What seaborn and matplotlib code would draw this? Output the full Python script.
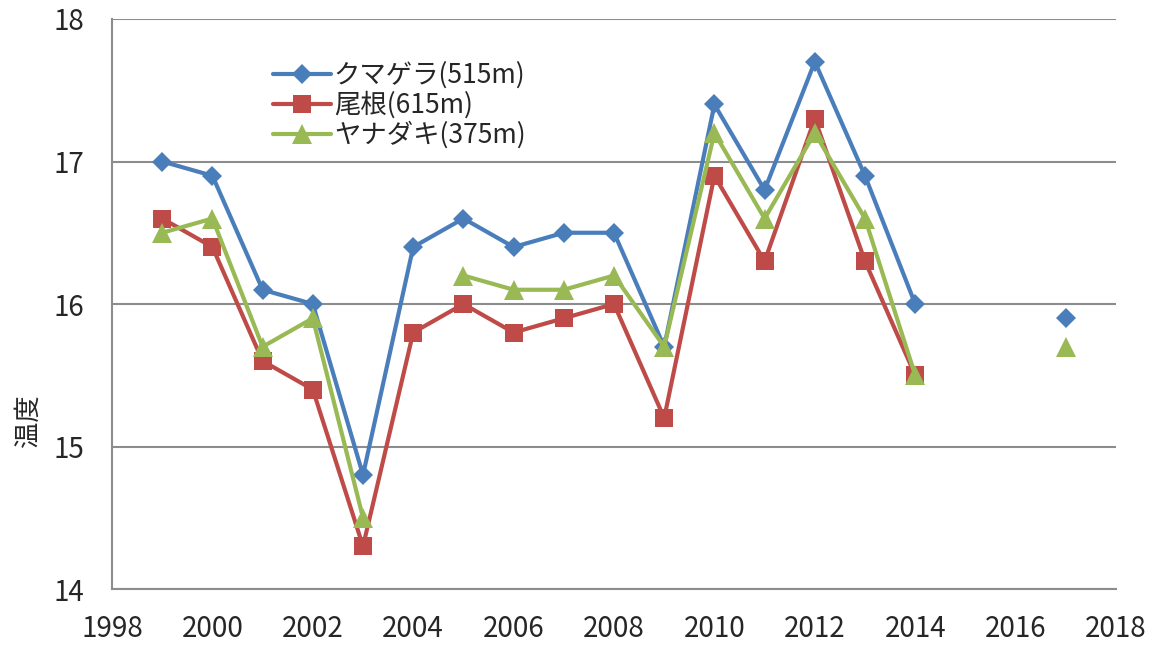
import numpy as np
import pandas as pd
import matplotlib
matplotlib.use("Agg")
import matplotlib.pyplot as plt
import seaborn as sns

# 年ごとの平均温度（欠測は NaN）
years = [1999, 2000, 2001, 2002, 2003, 2004, 2005, 2006, 2007, 2008,
         2009, 2010, 2011, 2012, 2013, 2014, 2015, 2016, 2017]
kumagera = [17.0, 16.9, 16.1, 16.0, 14.8, 16.4, 16.6, 16.4, 16.5, 16.5,
            15.7, 17.4, 16.8, 17.7, 16.9, 16.0, np.nan, np.nan, 15.9]
one = [16.6, 16.4, 15.6, 15.4, 14.3, 15.8, 16.0, 15.8, 15.9, 16.0,
       15.2, 16.9, 16.3, 17.3, 16.3, 15.5, np.nan, np.nan, np.nan]
yanadaki = [16.5, 16.6, 15.7, 15.9, 14.5, np.nan, 16.2, 16.1, 16.1, 16.2,
            15.7, 17.2, 16.6, 17.2, 16.6, 15.5, np.nan, np.nan, 15.7]

series_names = ["クマゲラ(515m)", "尾根(615m)", "ヤナダキ(375m)"]
series_values = [kumagera, one, yanadaki]
colors = ["#4A7EBB", "#BE4B48", "#98B954"]
markers = ["D", "s", "^"]
msizes = [10, 13, 14]

# 欠測で線を切るため区間番号をつける
rows = []
for name, vals in zip(series_names, series_values):
    seg = 0
    for y, v in zip(years, vals):
        if np.isnan(v):
            seg += 1
            continue
        rows.append({"年": y, "温度": v, "系列": name, "区間": f"{name}_{seg}"})
df = pd.DataFrame(rows)

sns.set_style("white")
plt.rcParams["font.family"] = ["Noto Sans CJK JP", "DejaVu Sans"]

fig = plt.figure(figsize=(11.56, 6.46), dpi=100)
ax = fig.add_axes([0.0969, 0.0882, 0.8685, 0.8824])

for name, c, m, ms in zip(series_names, colors, markers, msizes):
    sub = df[df["系列"] == name]
    sns.lineplot(data=sub, x="年", y="温度", units="区間", estimator=None,
                 color=c, marker=m, markersize=ms, markeredgewidth=0,
                 linewidth=3, ax=ax, label=None, legend=False, zorder=3)

ax.set_xlim(1998, 2018)
ax.set_ylim(14, 18)
ax.set_xticks(range(1998, 2019, 2))
ax.set_yticks([14, 15, 16, 17, 18])
ax.yaxis.grid(True, color="#8c8c8c", linewidth=1.5)
ax.set_axisbelow(True)
for s in ["top", "right"]:
    ax.spines[s].set_visible(False)
for s in ["left", "bottom"]:
    ax.spines[s].set_color("#8c8c8c")
    ax.spines[s].set_linewidth(1.5)
ax.tick_params(axis="both", direction="out", length=7, width=1.5,
               color="#8c8c8c", labelsize=20)
ax.tick_params(axis="x", pad=11)
ax.tick_params(axis="y", pad=13)
ax.set_xlabel("")
ax.set_ylabel("温度", fontsize=19)
ax.yaxis.set_label_coords(-0.070, 0.296)

handles = [plt.Line2D([], [], color=c, marker=m, markersize=ms,
                      markeredgewidth=0, linewidth=3)
           for c, m, ms in zip(colors, markers, msizes)]
ax.legend(handles, series_names, fontsize=19, frameon=False,
          loc="upper left", bbox_to_anchor=(0.150, 0.944),
          handlelength=2.2, handletextpad=0.1, labelspacing=0.1,
          borderaxespad=0)

fig.savefig("out.png", dpi=100)
